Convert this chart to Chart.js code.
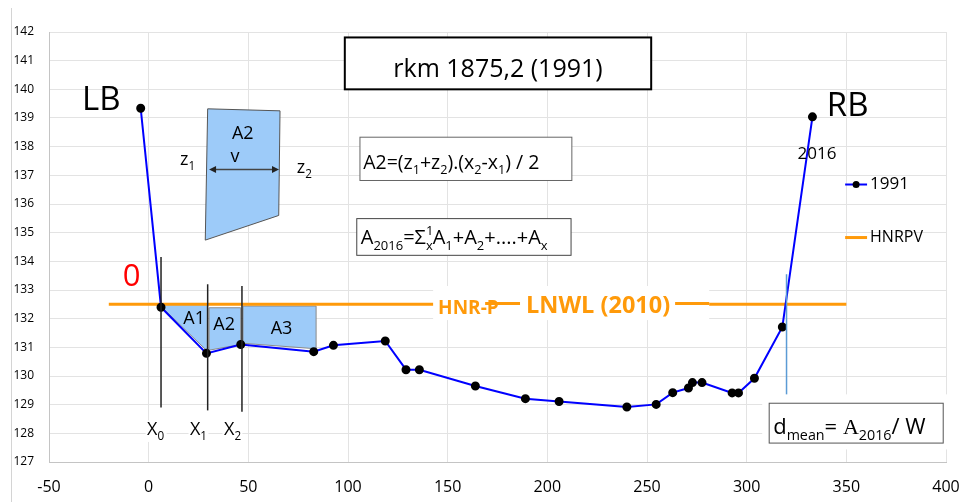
<!DOCTYPE html>
<html>
<head>
<meta charset="utf-8">
<script src="https://cdn.jsdelivr.net/npm/chart.js@4.4.0/dist/chart.umd.min.js"></script>
<style>
  html, body { margin: 0; padding: 0; background: #fff; }
  #wrap { width: 961px; height: 502px; }
</style>
</head>
<body>
<div id="wrap"><canvas id="profileChart" width="961" height="502"></canvas></div>
<script>
// Cross-section rkm 1875,2 - survey 1991
const xTicks = [-50, 0, 50, 100, 150, 200, 250, 300, 350, 400];
const yTicks = [127, 128, 129, 130, 131, 132, 133, 134, 135, 136, 137, 138, 139, 140, 141, 142];

const dist1991 = [-4, 6.2, 29, 46.2, 82.8, 92.7, 118.7, 129.1, 135.8, 163.9, 189, 205.9,
                  239.9, 254.6, 262.9, 270.8, 272.8, 277.6, 292.7, 295.9, 303.9, 317.9, 333];
const level1991 = [139.34, 132.4, 130.79, 131.1, 130.85, 131.07, 131.22, 130.22, 130.22, 129.65, 129.21, 129.11,
                   128.92, 129.01, 129.42, 129.58, 129.77, 129.77, 129.41, 129.41, 129.92, 131.71, 139.04];

const distHnrpv = [-20, 350];
const levelHnrpv = [132.5, 132.5];

const FONT = "'Open Sans', 'Noto Sans', sans-serif";
const ORANGE = '#FF9A0A';
const LIGHTBLUE = '#9DCBF9';

function toPoints(xs, ys) {
    return xs.map(function (x, i) { return { x: x, y: ys[i] }; });
}

// text with sub/superscripts: parts = [[text, 'n'|'sub'|'sup'|'supStack', weight, family], ...]
function drawRich(ctx, parts, x, y, size, color, weight) {
    ctx.fillStyle = color || '#000';
    ctx.textBaseline = 'alphabetic';
    ctx.textAlign = 'left';
    let cx = x;
    parts.forEach(function (p) {
        let s = p[1] === 'n' ? size : size * 0.65;
        let dy = 0;
        if (p[1] === 'sub') dy = size * 0.28;
        if (p[1] === 'sup' || p[1] === 'supStack') dy = -size * 0.45;
        ctx.font = (p[2] || weight || '') + ' ' + s + 'px ' + (p[3] || FONT);
        ctx.fillText(p[0], cx, y + dy);
        if (p[1] !== 'supStack') cx += ctx.measureText(p[0]).width;
    });
}

const annotations = {
    id: 'annotations',
    beforeDatasetsDraw(chart) {
        const ctx = chart.ctx;
        const sx = chart.scales.x, sy = chart.scales.y;
        const P = function (x, y) { return [sx.getPixelForValue(x), sy.getPixelForValue(y)]; };

        function poly(pts, fill, stroke) {
            ctx.beginPath();
            pts.forEach(function (p, i) {
                const q = P(p[0], p[1]);
                if (i === 0) ctx.moveTo(q[0], q[1]); else ctx.lineTo(q[0], q[1]);
            });
            ctx.closePath();
            ctx.fillStyle = fill;
            ctx.fill();
            ctx.lineWidth = 1;
            ctx.strokeStyle = stroke;
            ctx.stroke();
        }

        ctx.save();
        // sub-areas between verticals
        poly([[6.2, 132.53], [29.4, 132.53], [29.4, 130.87], [6.2, 132.43]], LIGHTBLUE, '#8a8a8a');
        poly([[30.3, 132.38], [46.2, 132.38], [46.2, 131.1], [30.3, 130.9]], LIGHTBLUE, '#8a8a8a');
        poly([[47.3, 132.44], [84, 132.44], [84, 130.95], [47.3, 131.14]], LIGHTBLUE, '#8a8a8a');
        // sketch of a single trapezium
        poly([[29.6, 139.32], [65.9, 139.25], [65.25, 135.6], [28.4, 134.74]], LIGHTBLUE, '#555');
        ctx.restore();
    },
    afterDatasetsDraw(chart) {
        const ctx = chart.ctx;
        const sx = chart.scales.x, sy = chart.scales.y;
        const P = function (x, y) { return [sx.getPixelForValue(x), sy.getPixelForValue(y)]; };

        function line(x1, y1, x2, y2, color, w) {
            const a = P(x1, y1), b = P(x2, y2);
            ctx.beginPath();
            ctx.moveTo(a[0], a[1]);
            ctx.lineTo(b[0], b[1]);
            ctx.strokeStyle = color;
            ctx.lineWidth = w;
            ctx.stroke();
        }
        function rect(x1, y1, x2, y2, fill, stroke, w) {
            const a = P(x1, y1), b = P(x2, y2);
            if (fill) { ctx.fillStyle = fill; ctx.fillRect(a[0], a[1], b[0] - a[0], b[1] - a[1]); }
            if (stroke) { ctx.strokeStyle = stroke; ctx.lineWidth = w; ctx.strokeRect(a[0], a[1], b[0] - a[0], b[1] - a[1]); }
        }
        function text(parts, x, y, size, color, weight) {
            const a = P(x, y);
            drawRich(ctx, parts, a[0], a[1], size, color, weight);
        }

        ctx.save();
        // outer frame line on the left
        ctx.strokeStyle = '#d4d4d4';
        ctx.lineWidth = 1;
        ctx.beginPath();
        ctx.moveTo(11.5, 8);
        ctx.lineTo(11.5, 502);
        ctx.stroke();

        // verticals X0, X1, X2
        line(6.2, 134.15, 6.2, 128.9, '#222', 1.5);
        line(29.6, 133.2, 29.6, 128.8, '#222', 1.5);
        line(46.8, 133.14, 46.8, 128.75, '#222', 1.5);
        // right bank water line
        line(320, 133.55, 320, 129.3, '#5B9BD5', 1.5);

        // labels of the verticals
        rect(-1.5, 128.45, 9, 127.7, '#fff');
        rect(20, 128.45, 30, 127.7, '#fff');
        rect(37, 128.45, 47, 127.7, '#fff');
        text([['X', 'n'], ['0', 'sub']], -0.8, 127.93, 18);
        text([['X', 'n'], ['1', 'sub']], 20.7, 127.93, 18);
        text([['X', 'n'], ['2', 'sub']], 37.8, 127.93, 18);

        text([['A1', 'n']], 17.4, 131.8, 18);
        text([['A2', 'n']], 32.4, 131.6, 18);
        text([['A3', 'n']], 61.2, 131.45, 18);

        // trapezium sketch labels
        ctx.textAlign = 'center';
        ctx.fillStyle = '#000';
        ctx.font = '18px ' + FONT;
        let q = P(47.2, 138.45);
        ctx.textBaseline = 'middle';
        ctx.fillText('A2', q[0], q[1]);
        q = P(43.3, 137.65);
        ctx.fillText('v', q[0], q[1]);
        // double arrow
        const a1 = P(30.3, 137.2), a2 = P(65.4, 137.2);
        ctx.strokeStyle = '#444';
        ctx.fillStyle = '#222';
        ctx.lineWidth = 1.5;
        ctx.beginPath();
        ctx.moveTo(a1[0] + 5, a1[1]);
        ctx.lineTo(a2[0] - 5, a2[1]);
        ctx.stroke();
        ctx.beginPath();
        ctx.moveTo(a1[0], a1[1]); ctx.lineTo(a1[0] + 7, a1[1] - 3.5); ctx.lineTo(a1[0] + 7, a1[1] + 3.5);
        ctx.closePath(); ctx.fill();
        ctx.beginPath();
        ctx.moveTo(a2[0], a2[1]); ctx.lineTo(a2[0] - 7, a2[1] - 3.5); ctx.lineTo(a2[0] - 7, a2[1] + 3.5);
        ctx.closePath(); ctx.fill();
        text([['z', 'n'], ['1', 'sub']], 15.7, 137.35, 18);
        text([['z', 'n'], ['2', 'sub']], 74.3, 137.09, 18);

        // label box on the water level line
        rect(142.7, 133.14, 281.2, 131.95, '#fff');
        text([['HNR-P', 'n']], 145.2, 132.15, 19, ORANGE, 'bold');
        line(168.8, 132.53, 186.3, 132.53, ORANGE, 3);
        text([['LNWL (2010)', 'n']], 189.3, 132.21, 23.5, ORANGE, 'bold');
        line(264.1, 132.53, 281.2, 132.53, ORANGE, 3);

        // title box
        rect(98.4, 141.81, 252.1, 140.0, '#fff', '#000', 2);
        ctx.font = '25px ' + FONT;
        ctx.fillStyle = '#000';
        ctx.textAlign = 'center';
        ctx.textBaseline = 'alphabetic';
        q = P(175.25, 140.43);
        ctx.fillText('rkm 1875,2 (1991)', q[0], q[1]);

        // formula boxes
        rect(106.0, 138.33, 212.3, 136.82, '#fff', '#666', 1);
        text([['A2=(z', 'n'], ['1', 'sub'], ['+z', 'n'], ['2', 'sub'], [').(x', 'n'], ['2', 'sub'],
              ['-x', 'n'], ['1', 'sub'], [') / 2', 'n']], 107.6, 137.23, 19.5);

        rect(104.4, 135.49, 211.9, 134.21, '#fff', '#444', 1);
        text([['A', 'n'], ['2016', 'sub'], ['=Σ', 'n'], ['1', 'supStack'], ['x', 'sub'],
              ['A', 'n'], ['1', 'sub'], ['+A', 'n'], ['2', 'sub'], ['+....+A', 'n'], ['x', 'sub']],
             106.4, 134.59, 20);

        // mean depth box
        rect(307.8, 129.36, 403.1, 127.44, '#fff');
        rect(311.3, 129.05, 398.6, 127.66, null, '#555', 1);
        text([['d', 'n'], ['mean', 'sub'], ['= ', 'n'], ['A', 'n', '', "'Liberation Serif', serif"],
              ['2016', 'sub'], ['/ W', 'n']], 313.3, 127.97, 22);

        // bank labels
        text([['LB', 'n']], -33.4, 139.27, 33);
        text([['RB', 'n']], 340.2, 139.06, 33);
        text([['0', 'n']], -13.0, 133.14, 31, '#FF0000');
        text([['2016', 'n']], 325.5, 137.57, 17);

        // legend
        line(349.4, 136.68, 360.4, 136.68, '#0000FF', 2);
        q = P(354.9, 136.68);
        ctx.beginPath();
        ctx.arc(q[0], q[1], 3.5, 0, Math.PI * 2);
        ctx.fillStyle = '#000';
        ctx.fill();
        line(349.4, 134.83, 360.4, 134.83, ORANGE, 3);
        ctx.font = '17px ' + FONT;
        ctx.fillStyle = '#000';
        ctx.textAlign = 'left';
        ctx.textBaseline = 'middle';
        q = P(361.9, 136.68);
        ctx.fillText('1991', q[0], q[1]);
        ctx.font = '16px ' + FONT;
        q = P(361.9, 134.83);
        ctx.fillText('HNRPV', q[0], q[1]);
        ctx.restore();
    }
};

const chart = new Chart(document.getElementById('profileChart').getContext('2d'), {
    type: 'scatter',
    data: {
        datasets: [
            {
                label: '1991',
                data: toPoints(dist1991, level1991),
                showLine: true,
                borderColor: '#0000FF',
                borderWidth: 2,
                pointRadius: 3.5,
                pointBackgroundColor: '#000',
                pointBorderColor: '#000',
                tension: 0
            },
            {
                label: 'HNRPV',
                data: toPoints(distHnrpv, levelHnrpv),
                showLine: true,
                borderColor: ORANGE,
                borderWidth: 3,
                pointRadius: 0
            }
        ]
    },
    options: {
        responsive: false,
        animation: false,
        layout: { padding: { left: 0, top: 32, right: 15, bottom: 0 } },
        plugins: { legend: { display: false }, tooltip: { enabled: false } },
        scales: {
            x: {
                type: 'linear',
                min: -50,
                max: 400,
                afterBuildTicks: function (s) { s.ticks = xTicks.map(function (v) { return { value: v }; }); },
                afterFit: function (s) { s.height = 40; },
                grid: { color: '#e3e3e3', drawTicks: true, tickLength: 15, tickColor: 'rgba(0,0,0,0)' },
                border: { color: '#c4c4c4' },
                ticks: { padding: 1, color: '#000', font: { family: FONT, size: 16 } }
            },
            y: {
                min: 127,
                max: 142,
                afterBuildTicks: function (s) { s.ticks = yTicks.map(function (v) { return { value: v }; }); },
                afterFit: function (s) { s.width = 49; },
                grid: { color: '#e3e3e3', drawTicks: false },
                border: { color: '#c4c4c4' },
                ticks: { padding: 15, color: '#000', font: { family: FONT, size: 12 } }
            }
        }
    },
    plugins: [annotations]
});
</script>
</body>
</html>
